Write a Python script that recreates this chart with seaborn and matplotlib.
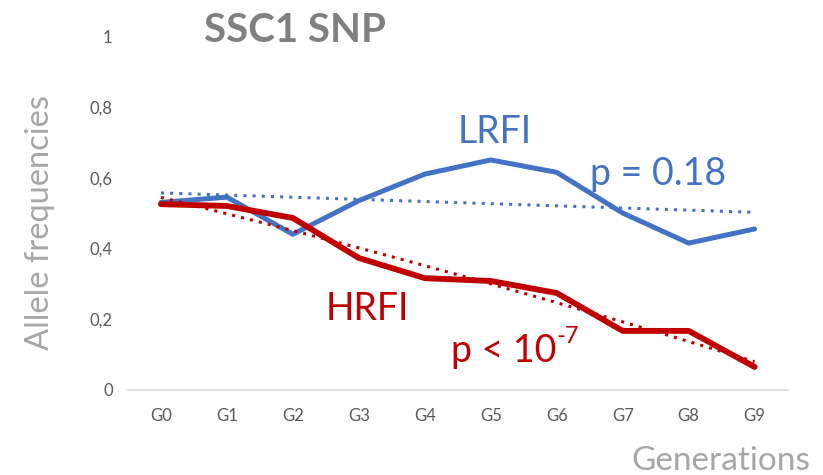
import numpy as np
import pandas as pd
import seaborn as sns
import matplotlib.pyplot as plt

# Data
generations = ['G0', 'G1', 'G2', 'G3', 'G4', 'G5', 'G6', 'G7', 'G8', 'G9']
lrfi = [0.53, 0.545, 0.44, 0.535, 0.61, 0.65, 0.615, 0.50, 0.415, 0.455]
hrfi = [0.525, 0.52, 0.486, 0.373, 0.316, 0.308, 0.274, 0.167, 0.167, 0.065]

blue = '#4472C4'
red = '#C00000'

sns.set_theme(style='white')
plt.rcParams['font.family'] = ['Lato', 'DejaVu Sans']

x = np.arange(len(generations))
df = pd.DataFrame({
    'gen': np.concatenate([x, x]),
    'freq': lrfi + hrfi,
    'line': ['LRFI'] * len(x) + ['HRFI'] * len(x),
})

fig = plt.figure(figsize=(8.23, 4.75), dpi=100)
ax = fig.add_axes([0.1555, 0.179, 0.8015, 0.745])

sns.lineplot(data=df[df.line == 'LRFI'], x='gen', y='freq', color=blue,
             linewidth=3.6, ax=ax, legend=False)
sns.lineplot(data=df[df.line == 'HRFI'], x='gen', y='freq', color=red,
             linewidth=4.2, ax=ax, legend=False)

# trend lines (linear for LRFI, polynomial for HRFI)
bl = np.poly1d(np.polyfit(x, lrfi, 1))
rd = np.poly1d(np.polyfit(x, hrfi, 2))
xs = np.linspace(0, len(x) - 1, 100)
ax.plot(xs, bl(xs), color=blue, linestyle=(0, (1, 2)), linewidth=2.2)
ax.plot(xs, rd(xs), color=red, linestyle=(0, (1, 2)), linewidth=2.2)

ax.set_xlim(-0.5, len(x) - 0.5)
ax.set_ylim(0, 1)
ax.set_xticks(x)
ax.set_xticklabels(generations)
ax.set_yticks([0, 0.2, 0.4, 0.6, 0.8, 1])
ax.set_yticklabels(['0', '0,2', '0,4', '0,6', '0,8', '1'])
ax.tick_params(axis='both', length=0, labelsize=12, labelcolor='#595959')
ax.tick_params(axis='x', pad=13)
ax.tick_params(axis='y', pad=11)

for s in ['top', 'right', 'left']:
    ax.spines[s].set_visible(False)
ax.spines['bottom'].set_color('#D9D9D9')
ax.spines['bottom'].set_linewidth(1.2)

ax.set_xlabel('')
ax.set_ylabel('')
fig.text(0.048, 0.531, 'Allele frequencies', rotation=90, ha='center',
         va='center', fontsize=23.5, color='#A6A6A6')
fig.text(0.985, 0.03, 'Generations', ha='right', va='center', fontsize=24,
         color='#A6A6A6')
fig.text(0.248, 0.935, 'SSC1 SNP', ha='left', va='center', fontsize=29,
         fontweight='bold', color='#808080')

ax.text(4.5, 0.73, 'LRFI', color=blue, fontsize=27, ha='left', va='center')
ax.text(6.5, 0.61, 'p = 0.18', color=blue, fontsize=27, ha='left', va='center')
ax.text(2.5, 0.23, 'HRFI', color=red, fontsize=27, ha='left', va='center')
pt = ax.text(4.4, 0.11, 'p < 10', color=red, fontsize=27, ha='left',
             va='center')
ax.annotate('-7', xy=(1.0, 0.62), xycoords=pt, color=red, fontsize=17,
            ha='left', va='bottom')

fig.savefig('out.png', dpi=100)
